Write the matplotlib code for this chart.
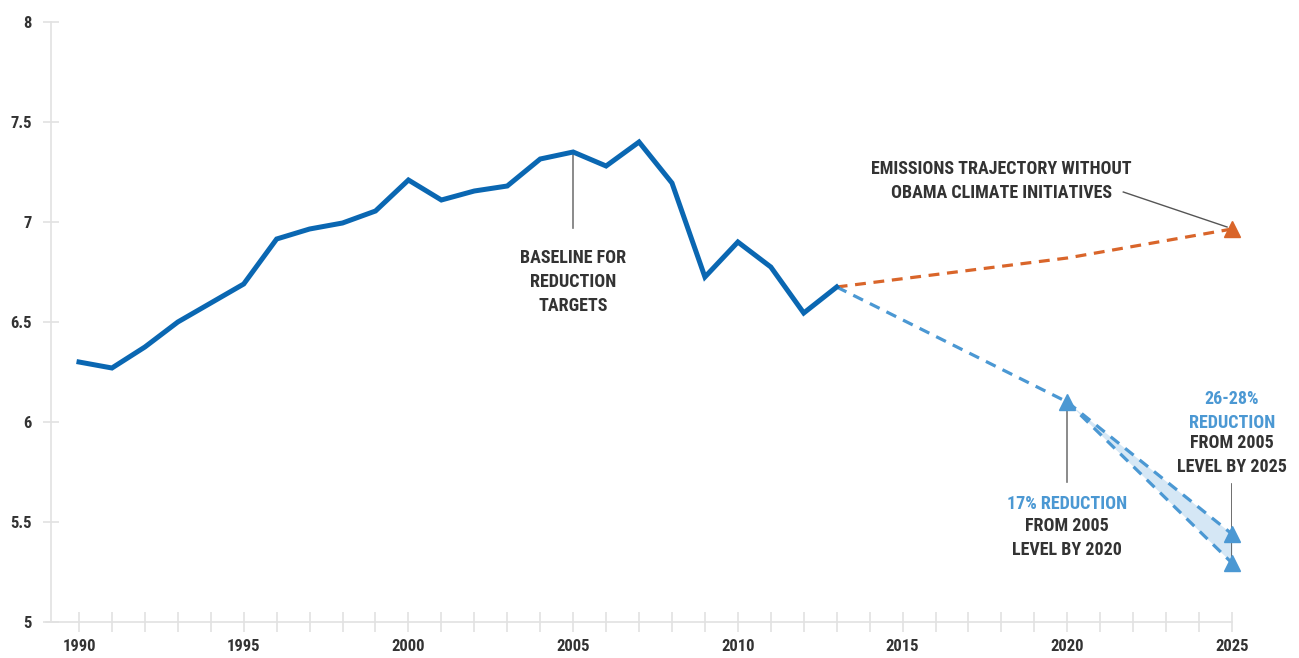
import matplotlib

matplotlib.use("Agg")
import matplotlib.pyplot as plt
from matplotlib import font_manager

# historical net emissions (billion tonnes CO2e)
years = list(range(1990, 2014))
emissions = [6.30, 6.27, 6.375, 6.50, 6.595, 6.69, 6.915, 6.965, 6.995, 7.055,
             7.21, 7.11, 7.155, 7.18, 7.315, 7.35, 7.28, 7.40, 7.195, 6.725,
             6.90, 6.775, 6.545, 6.675]

# projections
proj_years = [2013, 2020, 2025]
no_policy = [6.675, 6.82, 6.965]
target_path = [6.675, 6.10]
target_2020 = 6.10
target_2025_low = 5.295
target_2025_high = 5.44

DARK_BLUE = "#0a67b2"
LIGHT_BLUE = "#4b98d3"
ORANGE = "#d9652a"
FILL = "#d5e7f5"
TEXT = "#333333"
AXIS = "#e2e2e2"

names = {f.name for f in font_manager.fontManager.ttflist}
family = [f for f in ("Liberation Sans Narrow", "Roboto Condensed", "Roboto", "DejaVu Sans") if f in names]
plt.rcParams["font.family"] = family
plt.rcParams["font.weight"] = "bold"

fig = plt.figure(figsize=(12.99, 6.58), dpi=100)
ax = fig.add_axes([51 / 1299, 1 - 622 / 658, (1232 - 51) / 1299, 600 / 658])

ax.plot(years, emissions, color=DARK_BLUE, lw=3.6, solid_joinstyle="miter", zorder=4)

dash = (0, (3.4, 2.4))
ax.plot(proj_years, no_policy, color=ORANGE, lw=2.3, linestyle=dash, zorder=3)
ax.plot(proj_years[:2], target_path, color=LIGHT_BLUE, lw=2.3, linestyle=dash, zorder=3)
ax.fill_between([2020, 2025], [target_2020, target_2025_low], [target_2020, target_2025_high],
                color=FILL, lw=0, zorder=2)
ax.plot([2020, 2025], [target_2020, target_2025_high], color=LIGHT_BLUE, lw=2.3, linestyle=dash, zorder=3)
ax.plot([2020, 2025], [target_2020, target_2025_low], color=LIGHT_BLUE, lw=2.3, linestyle=dash, zorder=3)

ax.plot([2020, 2025, 2025], [target_2020, target_2025_high, target_2025_low], "^",
        color=LIGHT_BLUE, ms=11, clip_on=False, zorder=5)
ax.plot([2025], [no_policy[-1]], "^", color=ORANGE, ms=11, clip_on=False, zorder=5)

# annotation leader lines
ax.plot([2005, 2005], [7.35, 6.97], color="#777777", lw=1.2, zorder=3)
ax.plot([2020, 2020], [6.08, 5.70], color="#777777", lw=1.2, zorder=3)
ax.plot([2025, 2025], [5.69, 5.30], color="#555555", lw=1.2, zorder=4)
ax.plot([2021.7, 2024.85], [7.15, 6.975], color="#555555", lw=1.0, zorder=3)

fs = 13
ax.text(2005, 6.70, "BASELINE FOR\nREDUCTION\nTARGETS", ha="center", va="center",
        color=TEXT, fontsize=fs, linespacing=1.45)
ax.text(2018.0, 7.205, "EMISSIONS TRAJECTORY WITHOUT\nOBAMA CLIMATE INITIATIVES",
        ha="center", va="center", color=TEXT, fontsize=fs, linespacing=1.45)
ax.text(2020, 5.59, "17% REDUCTION", ha="center", va="center", color=LIGHT_BLUE, fontsize=fs)
ax.text(2020, 5.42, "FROM 2005\nLEVEL BY 2020", ha="center", va="center",
        color=TEXT, fontsize=fs, linespacing=1.45)
ax.text(2025, 6.055, "26-28%\nREDUCTION", ha="center", va="center",
        color=LIGHT_BLUE, fontsize=fs, linespacing=1.45)
ax.text(2025, 5.835, "FROM 2005\nLEVEL BY 2025", ha="center", va="center",
        color=TEXT, fontsize=fs, linespacing=1.45)

ax.set_xlim(1989.15, 2025)
ax.set_ylim(5, 8)
ax.set_xticks(range(1990, 2026))
ax.set_xticklabels([str(y) if y % 5 == 0 else "" for y in range(1990, 2026)])
ax.set_yticks([5, 5.5, 6, 6.5, 7, 7.5, 8])
ax.set_yticklabels(["5", "5.5", "6", "6.5", "7", "7.5", "8"])

for side in ("top", "right"):
    ax.spines[side].set_visible(False)
for side in ("left", "bottom"):
    ax.spines[side].set_color(AXIS)
    ax.spines[side].set_linewidth(1.2)
ax.spines["bottom"].set_bounds(1989.0, 2025)
ax.tick_params(axis="x", direction="inout", length=14, width=1.2, color=AXIS,
               labelsize=12, labelcolor=TEXT, pad=5)
ax.tick_params(axis="y", direction="inout", length=12, width=1.2, color=AXIS,
               labelsize=12, labelcolor=TEXT, pad=8)

fig.savefig("out.png", dpi=100)
